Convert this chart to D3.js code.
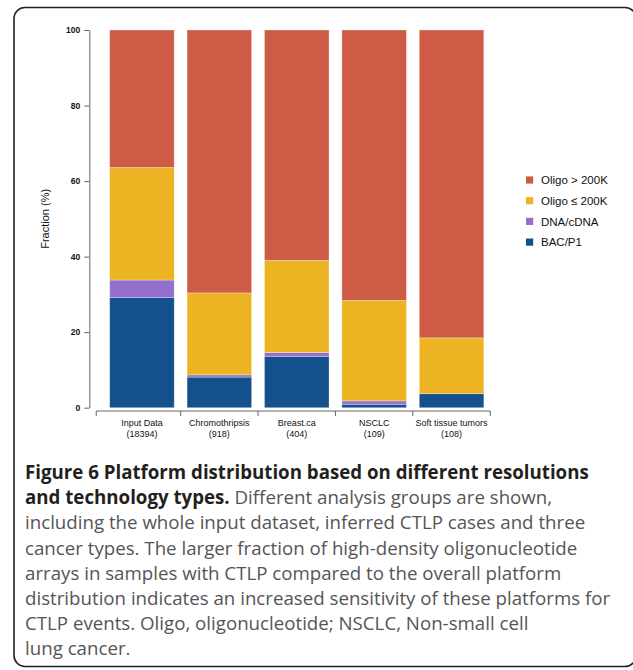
<!DOCTYPE html>
<html>
<head>
<meta charset="utf-8">
<script src="https://cdn.jsdelivr.net/npm/d3@7"></script>
<style>
  html, body { margin: 0; padding: 0; background: #fff; }
  svg { display: block; }
</style>
</head>
<body>
<svg id="chart" width="633" height="670"></svg>
<script>
// Analysis groups and their sample counts
const groups = ["Input Data", "Chromothripsis", "Breast.ca", "NSCLC", "Soft tissue tumors"];
const sampleCounts = ["18394", "918", "404", "109", "108"];

// Platform share per group (%), stacked bottom to top
const bacP1     = [29.2, 8.1, 13.6, 0.9, 3.7];
const dnaCdna   = [4.6, 0.6, 1.0, 0.9, 0.0];
const oligoLow  = [29.8, 21.7, 24.4, 26.6, 14.8];
const oligoHigh = [36.4, 69.6, 61.0, 71.6, 81.5];

const seriesNames  = ["BAC/P1", "DNA/cDNA", "Oligo \u2264 200K", "Oligo > 200K"];
const seriesColors = ["#14508c", "#9370cf", "#ecb323", "#cd5b46"];
const yTicks = [0, 20, 40, 60, 80, 100];

const caption = [
  [{t: "Figure 6 Platform distribution based on different resolutions", b: true}],
  [{t: "and technology types.", b: true}, {t: " Different analysis groups are shown,", b: false}],
  [{t: "including the whole input dataset, inferred CTLP cases and three", b: false}],
  [{t: "cancer types. The larger fraction of high-density oligonucleotide", b: false}],
  [{t: "arrays in samples with CTLP compared to the overall platform", b: false}],
  [{t: "distribution indicates an increased sensitivity of these platforms for", b: false}],
  [{t: "CTLP events. Oligo, oligonucleotide; NSCLC, Non-small cell", b: false}],
  [{t: "lung cancer.", b: false}]
];

const table = groups.map((g, i) => ({
  group: g,
  "BAC/P1": bacP1[i],
  "DNA/cDNA": dnaCdna[i],
  "Oligo \u2264 200K": oligoLow[i],
  "Oligo > 200K": oligoHigh[i]
}));

const svg = d3.select("#chart");

// Figure frame
svg.append("rect")
  .attr("x", 14).attr("y", 7.5)
  .attr("width", 622).attr("height", 659)
  .attr("rx", 11).attr("ry", 11)
  .attr("fill", "none")
  .attr("stroke", "#231f20")
  .attr("stroke-width", 1.6);

const x = d3.scaleBand()
  .domain(groups)
  .range([103.25, 490.25])
  .paddingInner(0.1667)
  .paddingOuter(0.0833);

const y = d3.scaleLinear().domain([0, 100]).range([407.7, 30]);

const color = d3.scaleOrdinal().domain(seriesNames).range(seriesColors);

const stacked = d3.stack().keys(seriesNames)(table);

// Stacked bars
svg.append("g").selectAll("g")
  .data(stacked)
  .join("g")
  .attr("fill", d => color(d.key))
  .selectAll("rect")
  .data(d => d.filter(s => s[1] - s[0] > 0))
  .join("rect")
  .attr("x", d => x(d.data.group))
  .attr("width", x.bandwidth())
  .attr("y", d => y(d[1]))
  .attr("height", d => y(d[0]) - y(d[1]))
  .attr("stroke", "rgba(255,255,255,0.35)")
  .attr("stroke-width", 0.8);

// Y axis
const yAxis = svg.append("g")
  .attr("transform", "translate(89.3,0)")
  .call(d3.axisLeft(y).tickValues(yTicks).tickSize(5).tickSizeOuter(0).tickPadding(4));
yAxis.select(".domain").attr("stroke", "#666");
yAxis.selectAll(".tick line").attr("stroke", "#666");
yAxis.selectAll(".tick text")
  .attr("font-family", "Liberation Sans, Arial, sans-serif")
  .attr("font-size", 8.5)
  .attr("font-weight", "bold")
  .attr("fill", "#111");

svg.append("text")
  .attr("transform", "translate(49," + ((y(0) + y(100)) / 2) + ") rotate(-90)")
  .attr("text-anchor", "middle")
  .attr("font-family", "Liberation Sans, Arial, sans-serif")
  .attr("font-size", 11)
  .attr("fill", "#111")
  .text("Fraction (%)");

// X axis: baseline with ticks between the groups
const gap = x.step() - x.bandwidth();
const bounds = groups.map(g => x(g) - gap / 2);
bounds[0] = x.range()[0] - 7;
bounds.push(x(groups[groups.length - 1]) + x.bandwidth() + gap / 2);
const xAxisY = 411;
const xg = svg.append("g").attr("stroke", "#666").attr("stroke-width", 1);
xg.append("line")
  .attr("x1", bounds[0]).attr("x2", bounds[bounds.length - 1])
  .attr("y1", xAxisY).attr("y2", xAxisY);
xg.selectAll("line.tk")
  .data(bounds)
  .join("line")
  .attr("class", "tk")
  .attr("x1", d => d).attr("x2", d => d)
  .attr("y1", xAxisY).attr("y2", xAxisY + 5);

const xl = svg.append("g")
  .attr("font-family", "Liberation Sans, Arial, sans-serif")
  .attr("font-size", 9)
  .attr("fill", "#111")
  .attr("text-anchor", "middle");
xl.selectAll("text.name")
  .data(groups)
  .join("text")
  .attr("class", "name")
  .attr("x", d => x(d) + x.bandwidth() / 2)
  .attr("y", 425.7)
  .text(d => d);
xl.selectAll("text.count")
  .data(groups)
  .join("text")
  .attr("class", "count")
  .attr("x", d => x(d) + x.bandwidth() / 2)
  .attr("y", 436.5)
  .text((d, i) => "(" + sampleCounts[i] + ")");

// Legend, top series first
const legendOrder = seriesNames.slice().reverse();
const lg = svg.append("g").attr("transform", "translate(526,180)");
const rows = lg.selectAll("g")
  .data(legendOrder)
  .join("g")
  .attr("transform", (d, i) => "translate(0," + (i * 20.7) + ")");
rows.append("rect")
  .attr("x", 0).attr("y", -3.6)
  .attr("width", 7.2).attr("height", 7.2)
  .attr("fill", d => color(d));
rows.append("text")
  .attr("x", 15)
  .attr("y", 0)
  .attr("dy", "0.36em")
  .attr("font-family", "Liberation Sans, Arial, sans-serif")
  .attr("font-size", 11.5)
  .attr("fill", "#111")
  .text(d => d);

// Caption
const cap = svg.append("g")
  .attr("font-family", "Open Sans, sans-serif")
  .attr("font-size", 18.7);
caption.forEach((line, i) => {
  const t = cap.append("text")
    .attr("x", 25)
    .attr("y", 479 + i * 25.2);
  line.forEach(seg => {
    t.append("tspan")
      .attr("font-weight", seg.b ? "bold" : "normal")
      .attr("fill", seg.b ? "#231f20" : "#555557")
      .text(seg.t);
  });
});
</script>
</body>
</html>
